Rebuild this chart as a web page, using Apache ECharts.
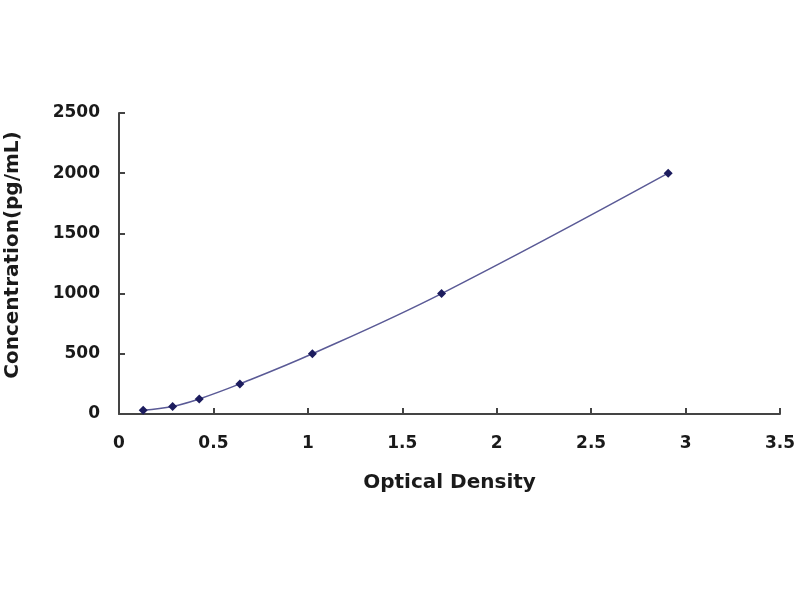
<!DOCTYPE html>
<html>
<head>
<meta charset="utf-8">
<script src="https://cdn.jsdelivr.net/npm/echarts@6/dist/echarts.min.js"></script>
<style>html,body{margin:0;padding:0;background:#fff}#c{width:800px;height:600px}</style>
</head>
<body>
<div id="c"></div>
<script>
const opticalDensity = [0.128, 0.284, 0.425, 0.640, 1.024, 1.708, 2.908];
const concentration = [31.25, 62.5, 125, 250, 500, 1000, 2000];
const xTicks = [0, 0.5, 1, 1.5, 2, 2.5, 3, 3.5];
const yTicks = [0, 500, 1000, 1500, 2000, 2500];

const chart = echarts.init(document.getElementById('c'));
const font = 'DejaVu Sans';
chart.setOption({
  animation: false,
  backgroundColor: '#fff',
  grid: { left: 119, right: 20, top: 113, bottom: 186, containLabel: false, outerBoundsMode: 'none' },
  xAxis: {
    type: 'value', min: 0, max: 3.5, interval: 0.5,
    name: 'Optical Density', nameLocation: 'middle', nameGap: 59,
    nameTextStyle: { fontFamily: font, fontWeight: 'bold', fontSize: 20, color: '#1a1a1a' },
    axisLine: { show: true, lineStyle: { color: '#444', width: 2 } },
    axisTick: { show: true, inside: true, length: 6, lineStyle: { color: '#444', width: 2 } },
    axisLabel: { fontFamily: font, fontWeight: 'bold', fontSize: 17, color: '#1a1a1a', margin: 21,
      formatter: v => xTicks.includes(v) ? String(v) : '' },
    splitLine: { show: false }
  },
  yAxis: {
    type: 'value', min: 0, max: 2500, interval: 500,
    name: 'Concentration(pg/mL)', nameLocation: 'middle', nameGap: 96,
    nameTextStyle: { fontFamily: font, fontWeight: 'bold', fontSize: 20, color: '#1a1a1a', padding: [0, 0, 0, 17] },
    axisLine: { show: true, lineStyle: { color: '#444', width: 2 } },
    axisTick: { show: true, inside: true, length: 6, lineStyle: { color: '#444', width: 2 } },
    axisLabel: { fontFamily: font, fontWeight: 'bold', fontSize: 17, color: '#1a1a1a', margin: 19,
      formatter: v => yTicks.includes(v) ? String(v) : '' },
    splitLine: { show: false }
  },
  series: [{
    type: 'line',
    data: opticalDensity.map((x, i) => [x, concentration[i]]),
    smooth: 0.4,
    symbol: 'diamond', symbolSize: 9,
    itemStyle: { color: '#1c1c5e' },
    lineStyle: { color: '#5a5a96', width: 1.5 }
  }]
});
</script>
</body>
</html>
